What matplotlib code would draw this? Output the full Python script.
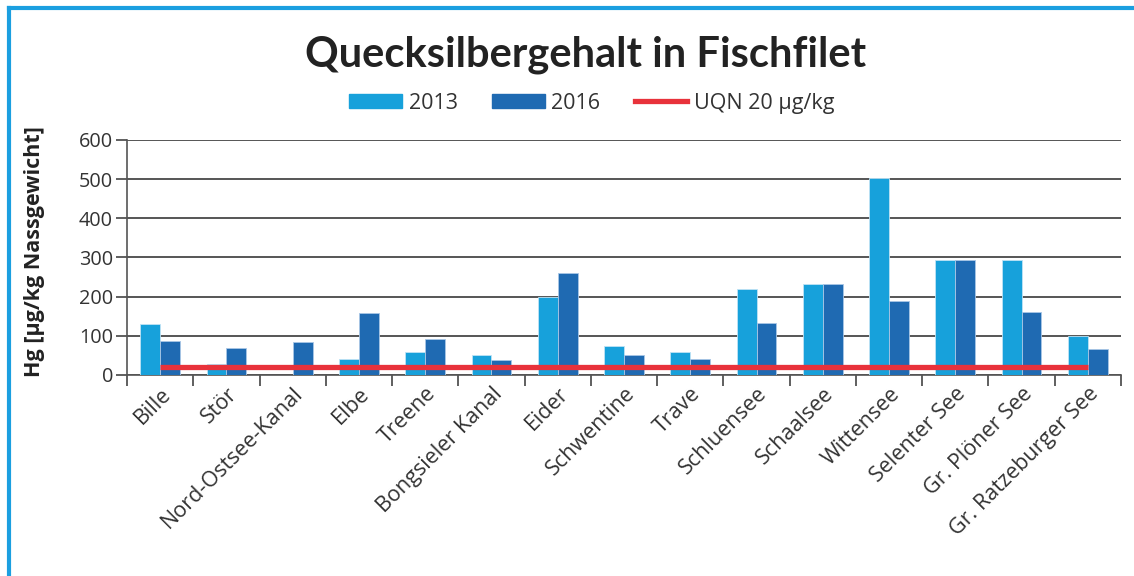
import numpy as np
import matplotlib.pyplot as plt
from matplotlib.lines import Line2D
from matplotlib.patches import Patch

plt.rcParams['font.family'] = ['Open Sans', 'DejaVu Sans']

gewaesser = ["Bille", "Stör", "Nord-Ostsee-Kanal", "Elbe", "Treene", "Bongsieler Kanal",
             "Eider", "Schwentine", "Trave", "Schluensee", "Schaalsee", "Wittensee",
             "Selenter See", "Gr. Plöner See", "Gr. Ratzeburger See"]
hg_2013 = [130, 27, 0, 42, 58, 50, 200, 73, 59, 220, 232, 502, 293, 293, 100]
hg_2016 = [88, 69, 84, 157, 92, 38, 261, 50, 42, 132, 232, 188, 293, 162, 67]
uqn = 20

c2013 = "#17a1db"
c2016 = "#1f6ab2"
cred = "#e8323b"
txt = "#333333"

fig = plt.figure(figsize=(11.34, 5.76), dpi=100)
ax = fig.add_axes([0.112, 0.349, 0.8765, 0.408])

x = np.arange(len(gewaesser))
w = 0.3
ax.bar(x - w / 2, hg_2013, w, color=c2013, edgecolor="#bfe3f5", linewidth=0.6, zorder=3)
ax.bar(x + w / 2, hg_2016, w, color=c2016, edgecolor="#a9c6e6", linewidth=0.6, zorder=3)
ax.plot([x[0], x[-1]], [uqn, uqn], color=cred, linewidth=3.8, solid_capstyle="butt", zorder=4)

ax.set_xlim(-0.5, len(gewaesser) - 0.5)
ax.set_ylim(0, 600)
ax.set_yticks(range(0, 601, 100))
ax.yaxis.grid(True, color="#555555", linewidth=1.4, zorder=0)
ax.set_axisbelow(True)

# Striche an den Kategoriegrenzen, Beschriftung in der Mitte
ax.set_xticks(np.arange(-0.5, len(gewaesser)))
ax.set_xticklabels([])
ax.set_xticks(x, minor=True)
ax.set_xticklabels(gewaesser, minor=True, rotation=45, ha="right", rotation_mode="anchor",
                   fontsize=15.5, color=txt)
ax.tick_params(axis="x", which="major", length=8, width=1.2, color="#444444")
ax.tick_params(axis="x", which="minor", length=0, pad=6)
ax.tick_params(axis="y", length=8, width=1.2, color="#444444", labelsize=14.3,
               labelcolor=txt, pad=2)

for s in ["top", "right"]:
    ax.spines[s].set_visible(False)
ax.spines["left"].set_color("#555555")
ax.spines["left"].set_linewidth(1.2)
ax.spines["bottom"].set_color("#555555")
ax.spines["bottom"].set_linewidth(1.2)

ax.set_ylabel("Hg [µg/kg Nassgewicht]", fontsize=15.5, fontweight="bold", color="#222222")
ax.yaxis.set_label_coords(-0.083, 0.525)

fig.text(0.516, 0.905, "Quecksilbergehalt in Fischfilet", ha="center", va="center",
         fontsize=30, fontweight="bold", color="#222222", family=["Lato", "DejaVu Sans"])

handles = [Patch(color=c2013, label="2013"),
           Patch(color=c2016, label="2016"),
           Line2D([0], [0], color=cred, linewidth=3.8, label="UQN 20 µg/kg")]
fig.legend(handles=handles, loc="center", bbox_to_anchor=(0.522, 0.821), ncol=3,
           frameon=False, fontsize=15.5, handlelength=2.45, handleheight=0.6,
           columnspacing=1.6, handletextpad=0.3, labelcolor=txt)

# blauer Rahmen oben und links
fig.add_artist(Line2D([0.008, 1.0], [0.986, 0.986], transform=fig.transFigure,
                      color="#1b9fe0", linewidth=3))
fig.add_artist(Line2D([0.008, 0.008], [0.0, 0.986], transform=fig.transFigure,
                      color="#1b9fe0", linewidth=3))

fig.savefig("out.png", dpi=100)
